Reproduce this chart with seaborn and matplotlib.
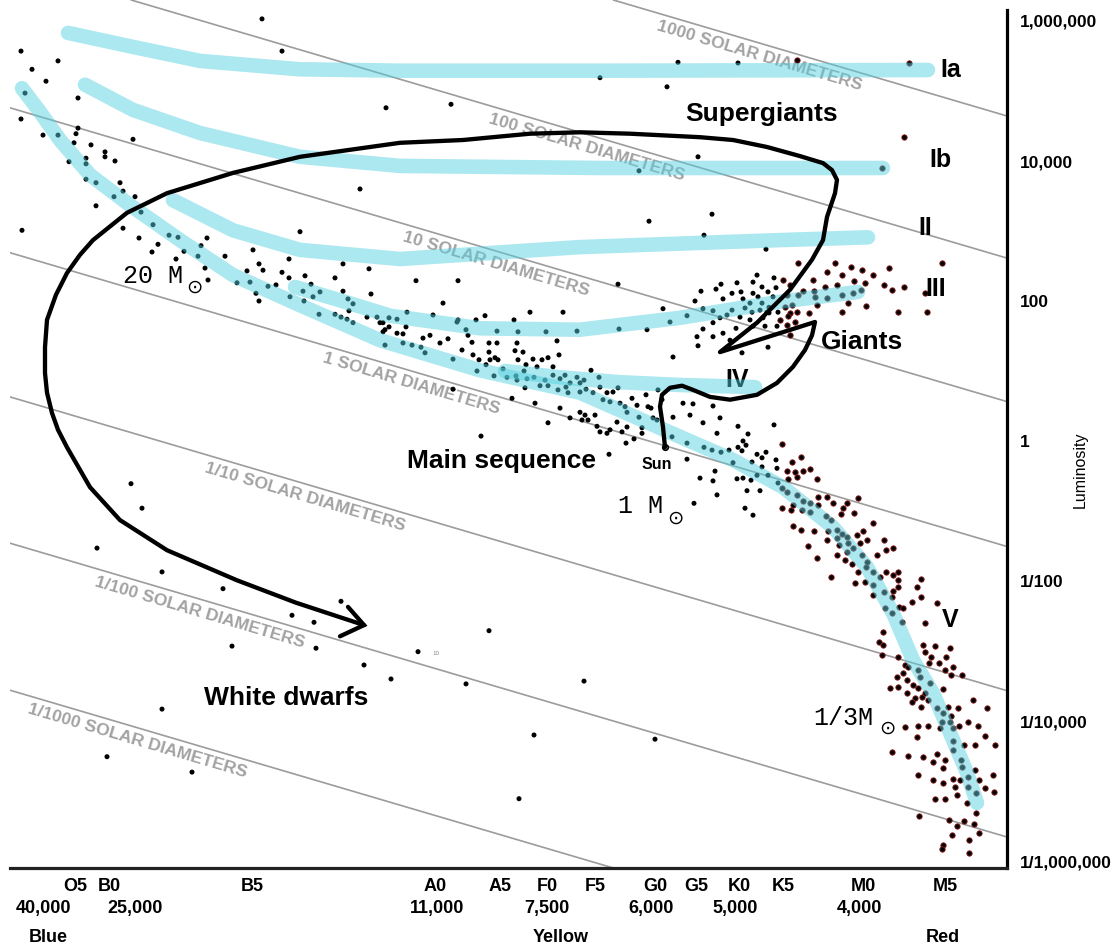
import matplotlib
matplotlib.use("Agg")
import numpy as np
import pandas as pd
import matplotlib.pyplot as plt
import seaborn as sns

# ---------------- axis labels / ticks ----------------
class_labels = ["O5", "B0", "B5", "A0", "A5", "F0", "F5", "G0", "G5", "K0", "K5", "M0", "M5"]
class_pos = [75, 109, 252, 435, 500, 547, 595, 655, 696, 739, 783, 863, 945]
temp_labels = ["40,000", "25,000", "11,000", "7,500", "6,000", "5,000", "4,000"]
temp_pos = [43, 135, 437, 547, 651, 735, 859]
color_labels = ["Blue", "Yellow", "Red"]
color_pos = [48, 561, 943]
lum_ticks = [6, 4, 2, 0, -2, -4, -6]
lum_labels = ["1,000,000", "10,000", "100", "1", "1/100", "1/10,000", "1/1,000,000"]

# ---------------- constant-radius lines ----------------
diam_labels = ["1000", "100", "10", "1", "1/10", "1/100", "1/1000"]
diam_logl_left = [8.84, 6.81, 4.76, 2.69, 0.63, -1.46, -3.56]   # log L at spectral position 10
diam_slope = -0.00421
diam_label_x = [759, 587, 496, 411, 305, 200, 137]

# ---------------- stars: (spectral position, log10 L) ----------------
stars_upper = [
    (262, 6.03), (282, 5.57), (21, 5.57), (58, 5.43), (32, 5.31), (46, 5.14), (78, 4.90), (25, 4.97),
    (21, 4.60), (386, 4.76), (78, 4.47), (43, 4.37), (58, 4.37), (76, 4.39), (74, 4.26), (133, 4.31),
    (91, 4.23), (105, 4.13), (105, 4.06), (115, 4.00), (69, 3.99), (86, 4.04), (86, 3.96), (86, 3.74),
    (96, 3.69), (120, 3.69), (123, 3.57), (114, 3.49), (135, 3.49), (96, 3.36), (360, 3.60), (141, 3.27),
    (22, 3.01), (123, 3.04), (153, 3.09), (169, 2.94), (178, 2.91), (207, 2.90), (300, 2.99), (139, 2.90),
    (201, 2.79), (158, 2.81), (152, 2.70), (184, 2.71), (198, 2.64), (253, 2.73), (225, 2.64), (176, 2.60),
    (289, 2.60), (259, 2.53), (205, 2.47), (263, 2.44), (247, 2.43), (282, 2.41), (343, 2.53), (369, 2.46),
    (208, 2.30), (237, 2.26), (250, 2.27), (268, 2.21), (276, 2.23), (289, 2.33), (305, 2.36), (335, 2.33),
    (311, 2.24), (303, 2.14), (320, 2.13), (313, 2.06), (343, 2.14), (371, 2.10), (256, 2.11), (290, 2.06),
    (259, 2.00), (304, 2.00), (319, 1.81), (335, 1.81), (349, 1.86), (353, 1.96), (348, 2.03), (341, 1.77),
    (367, 1.77), (377, 1.77), (389, 1.76), (347, 1.74), (353, 1.69), (383, 1.69), (385, 1.59), (397, 1.54),
    (385, 1.37),
]
stars_supergiant_field = [
    (678, 5.41), (738, 5.40), (600, 5.19), (667, 5.06), (451, 4.81), (698, 4.06), (639, 3.86), (712, 3.24),
    (649, 3.14), (704, 2.94), (766, 2.74), (416, 2.29), (458, 2.29), (618, 2.24), (443, 1.97), (407, 1.84),
    (433, 1.80), (563, 1.84), (663, 1.89), (797, 5.44), (909, 5.40), (904, 4.34), (882, 3.90),
]
stars_middle = [
    (530, 1.84), (485, 1.79), (476, 1.73), (458, 1.73), (514, 1.73), (397, 1.74), (380, 1.69), (389, 1.63),
    (406, 1.63), (383, 1.56), (670, 1.70), (647, 1.59), (619, 1.60), (577, 1.57), (546, 1.56), (518, 1.56),
    (497, 1.57), (466, 1.59), (457, 1.70), (423, 1.47), (430, 1.51), (440, 1.40), (448, 1.46), (468, 1.51),
    (472, 1.41), (489, 1.40), (497, 1.40), (517, 1.40), (557, 1.43), (403, 1.53), (403, 1.40), (412, 1.37),
    (421, 1.34), (462, 1.30), (473, 1.23), (479, 1.16), (489, 1.27), (490, 1.16), (495, 1.19), (498, 1.16),
    (515, 1.29), (518, 1.16), (523, 1.27), (425, 1.26), (453, 1.17), (477, 1.00), (486, 1.09), (494, 0.93),
    (503, 1.03), (507, 0.91), (516, 0.93), (524, 1.00), (526, 1.09), (533, 1.17), (542, 1.16), (548, 1.19),
    (553, 1.06), (559, 1.23), (537, 1.06), (527, 0.89), (525, 0.76), (517, 0.87), (534, 0.91), (540, 0.79),
    (545, 0.87), (548, 0.79), (553, 0.94), (560, 0.89), (565, 0.94), (566, 0.77), (558, 0.73), (568, 0.69),
    (570, 0.83), (577, 0.91), (580, 0.83), (580, 0.70), (584, 0.87), (586, 0.74), (591, 1.01), (599, 0.91),
    (593, 0.69), (600, 0.77), (603, 0.59), (607, 0.69), (610, 0.56), (613, 0.70), (618, 0.76), (620, 0.54),
    (625, 0.49), (627, 0.41), (632, 0.61), (637, 0.51), (639, 0.34), (646, 0.66), (648, 0.49), (651, 0.47),
    (653, 0.33), (658, 0.73), (657, 0.30), (662, 0.59), (580, 0.41), (582, 0.30), (585, 0.37), (588, 0.30),
    (595, 0.37), (597, 0.21), (600, 0.13), (607, 0.11), (610, 0.16), (617, 0.27), (622, 0.13), (626, -0.03),
    (634, 0.03), (642, 0.11), (642, 0.19), (627, 0.20), (570, 0.33), (560, 0.47), (548, 0.26), (535, 0.54),
    (512, 0.61), (481, 0.07), (609, -0.19), (453, 0.74), (673, 1.20), (673, 0.34), (672, 0.06),
]
stars_giants = [
    (798, 2.54), (835, 2.54), (851, 2.49), (862, 2.44), (889, 2.47), (942, 2.54), (827, 2.41), (842, 2.37),
    (873, 2.37), (757, 2.37), (774, 2.33), (783, 2.30), (721, 2.24), (737, 2.26), (753, 2.27), (813, 2.30),
    (854, 2.29), (837, 2.23), (865, 2.26), (884, 2.23), (892, 2.16), (904, 2.20), (762, 2.20), (776, 2.19),
    (790, 2.23), (825, 2.20), (701, 2.14), (716, 2.17), (732, 2.11), (741, 2.13), (753, 2.11), (768, 2.13),
    (803, 2.14), (814, 2.14), (861, 2.16), (695, 2.00), (723, 2.03), (743, 2.03), (758, 2.06), (773, 2.06),
    (787, 2.09), (798, 2.09), (815, 2.06), (827, 2.04), (842, 2.09), (853, 2.11), (925, 2.11), (750, 1.97),
    (762, 1.97), (769, 1.91), (785, 1.91), (792, 1.94), (817, 1.94), (848, 1.97), (866, 1.93), (703, 1.89),
    (713, 1.86), (732, 1.87), (745, 1.90), (752, 1.84), (760, 1.87), (767, 1.84), (778, 1.84), (790, 1.83),
    (797, 1.84), (809, 1.83), (842, 1.84), (898, 1.84), (927, 1.84), (687, 1.79), (720, 1.76), (727, 1.80),
    (740, 1.77), (750, 1.73), (763, 1.76), (769, 1.83), (780, 1.73), (788, 1.79), (795, 1.70), (713, 1.69),
    (703, 1.60), (736, 1.61), (753, 1.64), (765, 1.64), (777, 1.64), (787, 1.66), (790, 1.51), (697, 1.49),
    (713, 1.49), (723, 1.54), (730, 1.44), (698, 1.36), (768, 1.34), (742, 1.26),
]
stars_k_dwarfs = [
    (683, 0.54), (693, 0.53), (713, 0.50), (690, 0.37), (720, 0.33), (703, 0.26), (738, 0.21), (774, 0.23),
    (717, 0.11), (748, 0.10), (687, -0.03), (704, -0.09), (712, -0.13), (721, -0.16), (729, -0.13),
    (743, 0.00), (738, -0.09), (746, -0.06), (757, -0.19), (766, -0.16), (782, -0.04), (742, -0.14),
    (687, -0.26), (733, -0.31), (752, -0.30), (762, -0.24), (776, -0.27), (792, -0.30), (801, -0.23),
    (762, -0.37), (777, -0.39), (787, -0.43), (795, -0.44), (803, -0.43), (810, -0.40), (715, -0.43),
    (743, -0.53), (757, -0.49), (768, -0.49), (778, -0.60), (788, -0.54), (797, -0.51), (817, -0.54),
    (700, -0.53), (713, -0.57), (737, -0.54), (751, -0.56), (717, -0.77), (747, -0.71), (760, -0.71),
    (782, -0.67), (787, -0.73), (797, -0.77), (818, -0.80), (827, -0.80), (858, -0.81),
]
stars_m_dwarfs = [
    (694, -0.89), (745, -0.96), (753, -1.06), (782, -0.96), (791, -0.99), (793, -0.91), (802, -0.99),
    (810, -1.01), (818, -0.91), (803, -0.86), (810, -0.89), (833, -0.89), (847, -0.89), (843, -0.96),
    (841, -1.04), (854, -1.03), (826, -1.07), (831, -1.13), (793, -1.21), (801, -1.27), (814, -1.29),
    (828, -1.29), (837, -1.27), (827, -1.41), (837, -1.39), (842, -1.33), (839, -1.49), (847, -1.37),
    (857, -1.34), (863, -1.29), (848, -1.46), (853, -1.53), (860, -1.46), (867, -1.41), (873, -1.17),
    (884, -1.41), (893, -1.53), (886, -1.56), (808, -1.50), (817, -1.67), (837, -1.63), (845, -1.70),
    (852, -1.76), (847, -1.59), (862, -1.63), (867, -1.73), (858, -1.87), (866, -1.80), (873, -1.87),
    (877, -1.63), (880, -1.94), (886, -1.87), (893, -1.91), (898, -1.87), (898, -1.99), (898, -2.09),
    (893, -2.14), (831, -1.94), (855, -2.03), (865, -2.01), (873, -2.06), (873, -2.20), (884, -2.16),
    (892, -2.23), (885, -2.39), (892, -2.46), (899, -2.37), (903, -2.39), (902, -2.59), (912, -2.30),
    (917, -2.09), (921, -1.97), (921, -2.23), (937, -2.31), (925, -2.60), (883, -2.73), (879, -2.87),
    (883, -2.91), (882, -3.06), (898, -3.09), (905, -3.20), (897, -3.37), (903, -3.31), (908, -3.23),
    (890, -3.53), (898, -3.51), (907, -3.41), (913, -3.49), (907, -3.60), (915, -3.67), (922, -3.66),
    (912, -3.73), (923, -2.91), (925, -3.01), (931, -3.09), (935, -2.93), (950, -2.96), (946, -3.09),
    (929, -3.17), (939, -3.17), (953, -3.23), (945, -3.27), (962, -3.34), (951, -3.34), (918, -3.27),
    (920, -3.37), (930, -3.46), (918, -3.53), (925, -3.60), (943, -3.54), (928, -3.70), (921, -3.80),
    (937, -3.81), (943, -3.89), (948, -3.80), (958, -3.81), (973, -3.70), (987, -3.81), (951, -3.93),
    (959, -4.07), (968, -4.01), (978, -4.07), (940, -4.10), (942, -4.01), (950, -4.01), (953, -4.10),
    (928, -4.07), (918, -4.07), (905, -4.09), (917, -4.23), (892, -4.44), (908, -4.50), (923, -4.51),
    (937, -4.47), (953, -4.29), (953, -4.41), (964, -4.34), (975, -4.34), (985, -4.21), (995, -4.34),
    (933, -4.59), (945, -4.56), (943, -4.67), (961, -4.56), (962, -4.66), (975, -4.70), (960, -4.84),
    (968, -4.80), (979, -4.84), (993, -4.77), (953, -4.83), (918, -4.77), (933, -4.84), (943, -4.89),
    (955, -4.94), (968, -4.94), (985, -4.96), (994, -5.01), (976, -5.03), (935, -5.11), (945, -5.11),
    (957, -5.06), (967, -5.17), (976, -5.31), (919, -5.36), (949, -5.41), (964, -5.43), (974, -5.47),
    (957, -5.50), (979, -5.60), (952, -5.63), (969, -5.70), (943, -5.77), (942, -5.83), (969, -5.89),
]
stars_dwarfs_field = [
    (131, -0.61), (142, -0.96), (97, -1.53), (162, -1.87), (223, -2.11), (341, -2.29), (292, -2.49),
    (314, -2.59), (232, -2.93), (316, -2.96), (489, -2.71), (418, -3.01), (364, -3.20), (391, -3.40),
    (466, -3.47), (584, -3.43), (162, -3.83), (534, -4.20), (107, -4.51), (192, -4.73), (519, -5.11),
    (655, -4.26),
]

# ---------------- luminosity-class bands ----------------
band_Ia_x = [68, 133, 200, 300, 400, 600, 928]
band_Ia_l = [5.83, 5.63, 5.43, 5.31, 5.29, 5.29, 5.30]
band_Ib_x = [85, 133, 200, 300, 400, 600, 883]
band_Ib_l = [5.09, 4.73, 4.40, 4.06, 3.93, 3.90, 3.90]
band_II_x = [173, 233, 300, 400, 580, 780, 868]
band_II_l = [3.44, 3.01, 2.73, 2.60, 2.77, 2.87, 2.91]
band_III_x = [295, 340, 390, 480, 580, 680, 780, 858]
band_III_l = [2.20, 2.01, 1.79, 1.61, 1.59, 1.76, 1.99, 2.13]
band_IV_x = [505, 560, 620, 680, 755]
band_IV_l = [1.00, 0.91, 0.84, 0.80, 0.77]
band_V_x = [22, 40, 60, 90, 130, 180, 233, 300, 380, 480, 580, 680, 733, 783, 833, 867, 893, 913, 933, 953, 967, 977]
band_V_l = [5.04, 4.70, 4.30, 3.80, 3.37, 2.87, 2.37, 1.94, 1.44, 1.01, 0.69, 0.06, -0.27, -0.66, -1.23,
            -1.80, -2.46, -3.13, -3.60, -4.27, -4.74, -5.17]

# ---------------- evolutionary track of the Sun ----------------
track_x = [665, 663, 660, 662, 670, 682, 693, 710, 730, 757, 777, 793, 805, 812, 815, 720, 757, 790, 812, 823,
           827, 835, 837, 832, 823, 800, 767, 733, 700, 630, 580, 530, 463, 400, 300, 233, 167, 127, 93, 80,
           67, 56, 47, 45, 45, 47, 52, 58, 67, 90, 120, 167, 237, 296, 364]
track_l = [-0.09, 0.20, 0.49, 0.66, 0.76, 0.79, 0.73, 0.63, 0.59, 0.66, 0.83, 1.06, 1.30, 1.51, 1.70, 1.27,
           1.69, 2.16, 2.59, 2.87, 3.20, 3.54, 3.73, 3.87, 3.97, 4.07, 4.20, 4.30, 4.34, 4.39, 4.41, 4.39,
           4.30, 4.26, 4.06, 3.83, 3.54, 3.26, 2.87, 2.66, 2.40, 2.09, 1.73, 1.34, 0.97, 0.69, 0.40, 0.16,
           -0.09, -0.66, -1.13, -1.56, -1.99, -2.31, -2.63]
arrow_x = [348, 364, 340]
arrow_l = [-2.37, -2.63, -2.79]

# ---------------- annotations ----------------
region_labels = [("Supergiants", 762, 4.67), ("Giants", 862, 1.41), ("Main sequence", 501, -0.29),
                 ("White dwarfs", 286, -3.67)]
class_marks = [("Ia", 951, 5.30), ("Ib", 940, 4.01), ("II", 925, 3.04), ("III", 936, 2.17), ("V", 950, -2.56)]
mass_labels = [("20 M", 123, 2.26, 194, 2.20), ("1 M", 618, -1.03, 675, -1.11), ("1/3M", 813, -4.06, 887, -4.10)]

# ======================================================================
sns.set_theme(style="white")
plt.rcParams["font.family"] = ["Liberation Sans", "DejaVu Sans"]
plt.rcParams["text.color"] = "black"
plt.rcParams["xtick.color"] = "black"
plt.rcParams["ytick.color"] = "black"
plt.rcParams["axes.labelcolor"] = "black"

fig = plt.figure(figsize=(11.14, 9.49), dpi=100)
ax = fig.add_axes([10 / 1114, 1 - 868 / 949, 997 / 1114, 868 / 949])
ax.set_xlim(10, 1007)
ax.set_ylim(-6.1, 6.3)

# constant-radius guide lines
ang = -np.degrees(np.arctan(0.295))
for lab, b, lx in zip(diam_labels, diam_logl_left, diam_label_x):
    ax.axline((10, b), slope=diam_slope, color="#9c9c9c", lw=1.2, zorder=1)
    ly = b + diam_slope * (lx - 10) - 0.19
    ax.text(lx, ly, f"{lab} SOLAR DIAMETERS", rotation=ang, rotation_mode="anchor",
            ha="center", va="center", fontsize=12.6, fontweight="bold", color="#a2a2a2", zorder=1)

# stars
all_stars = (stars_upper + stars_supergiant_field + stars_middle + stars_giants +
             stars_k_dwarfs + stars_m_dwarfs + stars_dwarfs_field)
df = pd.DataFrame(all_stars, columns=["spec", "logL"])
cool = df["spec"] >= 780
sns.scatterplot(data=df[~cool], x="spec", y="logL", s=13, color="black", edgecolor="none",
                ax=ax, zorder=2, legend=False)
sns.scatterplot(data=df[cool], x="spec", y="logL", s=15, color="black", edgecolor="#8e1d1d",
                linewidth=0.6, ax=ax, zorder=2, legend=False)

# "IV" sits under its band
ax.text(737, 0.87, "IV", fontsize=18, fontweight="bold", color="black", ha="center", va="center", zorder=2.5)

# bands
for bx, bl in [(band_Ia_x, band_Ia_l), (band_Ib_x, band_Ib_l), (band_II_x, band_II_l),
               (band_III_x, band_III_l), (band_IV_x, band_IV_l), (band_V_x, band_V_l)]:
    ax.plot(bx, bl, color="#52D0DF", alpha=0.48, lw=10.5, solid_capstyle="round",
            solid_joinstyle="round", zorder=3)

# evolutionary track
ax.plot(track_x, track_l, color="black", lw=3.1, solid_joinstyle="round", solid_capstyle="round", zorder=4)
ax.plot(arrow_x, arrow_l, color="black", lw=3.1, solid_joinstyle="miter", zorder=4)
ax.plot([track_x[0]], [track_l[0]], marker="o", ms=4, mfc="none", mec="black", mew=1.2, zorder=4)

# text annotations
for txt, x, y in region_labels:
    ax.text(x, y, txt, fontsize=19, fontweight="bold", ha="center", va="center", zorder=5)
for txt, x, y in class_marks:
    ax.text(x, y, txt, fontsize=18, fontweight="bold", ha="center", va="center", zorder=5)
ax.text(657, -0.34, "Sun", fontsize=11.5, fontweight="bold", ha="center", va="center", zorder=5)
for txt, x, y, sx, sy in mass_labels:
    ax.text(x, y, txt, fontsize=18, family=["Liberation Mono", "DejaVu Sans Mono"],
            ha="left", va="baseline", zorder=5)
    ax.text(sx, sy, "\u2299", fontsize=14, family=["DejaVu Sans"], ha="center", va="center", zorder=5)
ax.text(436, -3.04, "10", fontsize=4.5, color="#888888", ha="center", va="center", zorder=5)

# axes styling
for side in ["top", "left"]:
    ax.spines[side].set_visible(False)
ax.spines["right"].set_color("black")
ax.spines["right"].set_linewidth(2.3)
ax.spines["right"].set_bounds(-6.1, 6.15)
ax.spines["bottom"].set_color("#222222")
ax.spines["bottom"].set_linewidth(2.3)

ax.set_xlabel("")
ax.set_ylabel("")
ax.set_xticks(class_pos, class_labels)
ax.tick_params(axis="x", length=0, pad=7, labelsize=13, labelcolor="black")
for t in ax.get_xticklabels():
    t.set_fontweight("bold")
ax.yaxis.tick_right()
ax.set_yticks(lum_ticks, lum_labels)
ax.tick_params(axis="y", length=0, pad=9, labelsize=12.5, labelcolor="black")
for t in ax.get_yticklabels():
    t.set_fontweight("bold")
ax.grid(False)

xtr = ax.get_xaxis_transform()
for lab, x in zip(temp_labels, temp_pos):
    ax.text(x, -40 / 868, lab, transform=xtr, ha="center", va="center", fontsize=13,
            fontweight="bold", clip_on=False)
for lab, x in zip(color_labels, color_pos):
    ax.text(x, -69 / 868, lab, transform=xtr, ha="center", va="center", fontsize=13,
            fontweight="bold", clip_on=False)
ax.text(1.073, 0.459, "Luminosity", transform=ax.transAxes, rotation=90, fontsize=11.5,
        ha="center", va="center", clip_on=False)

fig.savefig("out.png", dpi=100)
